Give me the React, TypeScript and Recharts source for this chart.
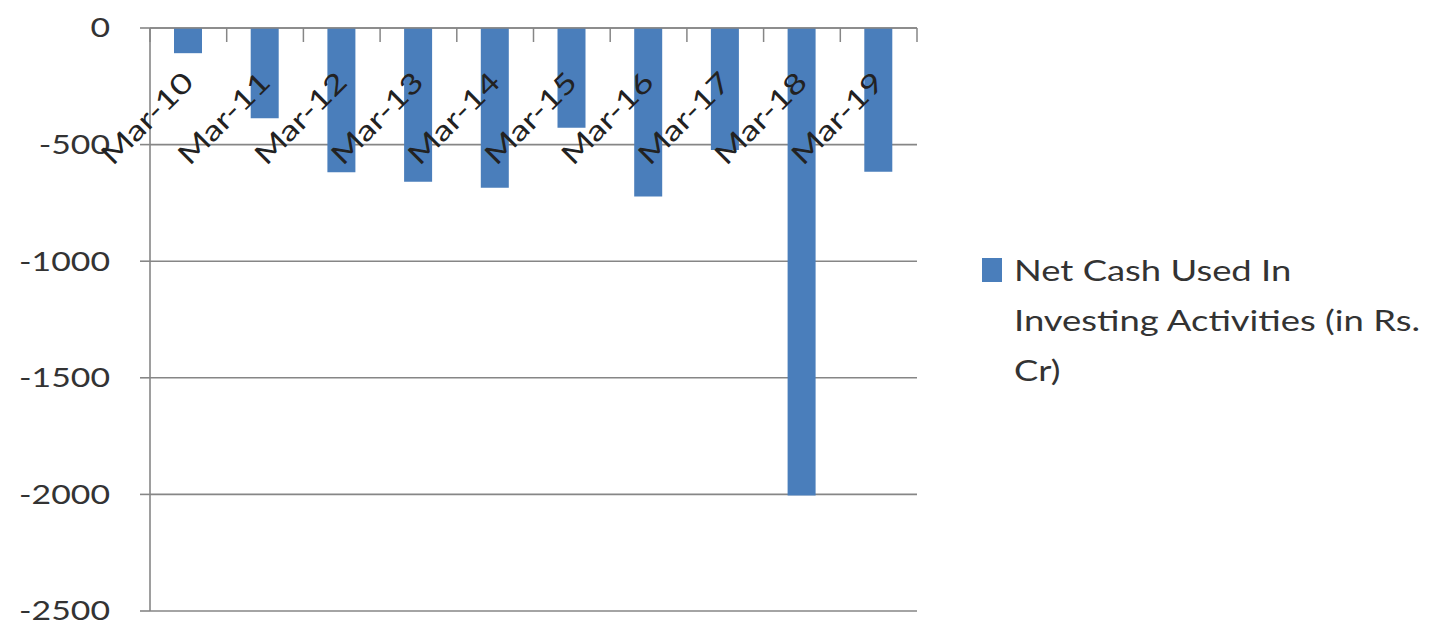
import { BarChart, Bar, XAxis, YAxis, CartesianGrid, Legend } from 'recharts';

const years = ['Mar-10', 'Mar-11', 'Mar-12', 'Mar-13', 'Mar-14', 'Mar-15', 'Mar-16', 'Mar-17', 'Mar-18', 'Mar-19'];
const netCashInvesting = [-108, -387, -619, -659, -685, -428, -723, -523, -2005, -616];
const yTicks = [0, -500, -1000, -1500, -2000, -2500];
const seriesName = 'Net Cash Used In Investing Activities (in Rs. Cr)';
// the legend entry wraps onto three lines
const legendLines = ['Net Cash Used In', 'Investing Activities (in Rs.', 'Cr)'];

const W = 1442;
const H = 627;
const PLOT_LEFT = 150;
const PLOT_RIGHT = 917;
const PLOT_TOP = 28;
const PLOT_BOTTOM = 611;
const BAND = (PLOT_RIGHT - PLOT_LEFT) / years.length;

const BLUE = '#4A7EBB';
const AXIS = '#868686';
const TEXT = '#333';
const FONT = 'Lato, "Open Sans", sans-serif';
const STRETCH = 1.3;

const data = years.map((year, i) => ({ year, value: netCashInvesting[i] }));

const YTick = ({ x, y, payload }: any) => (
  <g transform={`translate(${x},${y}) scale(${STRETCH},1)`}>
    <text textAnchor="end" dy="0.36em" fontSize={26} fill={TEXT} fontFamily={FONT}>
      {payload.value}
    </text>
  </g>
);

// category labels sit under the zero line; tick marks mark the band edges
const XTick = ({ x, payload, index }: any) => {
  const left = x - BAND / 2;
  const right = x + BAND / 2;
  return (
    <g>
      <line x1={left} y1={PLOT_TOP} x2={left} y2={PLOT_TOP + 14} stroke={AXIS} strokeWidth={1.5} />
      {index === years.length - 1 && (
        <line x1={right} y1={PLOT_TOP} x2={right} y2={PLOT_TOP + 14} stroke={AXIS} strokeWidth={1.5} />
      )}
      <g transform={`translate(${x + 7},${PLOT_TOP + 56}) rotate(-45) scale(1.27,1)`}>
        <text textAnchor="end" fontSize={28} fill="#222" fontFamily={FONT}>
          {payload.value}
        </text>
      </g>
    </g>
  );
};

const LegendBox = ({ payload }: any) => {
  const item = payload && payload[0];
  if (!item) return null;
  return (
    <div style={{ position: 'relative', fontFamily: FONT, color: TEXT }}>
      <div style={{ position: 'absolute', left: 0, top: 13, width: 20, height: 24, background: item.color }} />
      <div
        style={{
          position: 'absolute',
          left: 32,
          top: 0,
          fontSize: 28,
          lineHeight: '50px',
          whiteSpace: 'nowrap',
          transform: `scaleX(${STRETCH})`,
          transformOrigin: 'left top',
        }}
      >
        {legendLines.map((line) => (
          <div key={line}>{line}</div>
        ))}
      </div>
    </div>
  );
};

export default function App() {
  return (
    <div style={{ position: 'absolute', left: 0, top: 0, width: W, height: H, background: '#fff' }}>
      <BarChart
        width={W}
        height={H}
        data={data}
        margin={{ top: PLOT_TOP - 1, right: W - PLOT_RIGHT, bottom: H - PLOT_BOTTOM, left: 0 }}
      >
        <CartesianGrid vertical={false} stroke={AXIS} strokeWidth={1.6} />
        <YAxis
          type="number"
          domain={[-2500, 0]}
          ticks={yTicks}
          interval={0}
          width={PLOT_LEFT}
          tickSize={10}
          tickMargin={30}
          axisLine={{ stroke: AXIS, strokeWidth: 1.6 }}
          tickLine={{ stroke: AXIS, strokeWidth: 1.6 }}
          tick={<YTick />}
        />
        <Bar dataKey="value" name={seriesName} fill={BLUE} barSize={28} isAnimationActive={false} />
        <XAxis
          dataKey="year"
          orientation="top"
          height={1}
          interval={0}
          tickLine={false}
          axisLine={{ stroke: AXIS, strokeWidth: 1.6 }}
          tick={<XTick />}
        />
        <Legend
          layout="vertical"
          align="center"
          verticalAlign="middle"
          content={<LegendBox />}
          wrapperStyle={{ left: 982, top: 245, width: 460, height: 150 }}
        />
      </BarChart>
    </div>
  );
}
